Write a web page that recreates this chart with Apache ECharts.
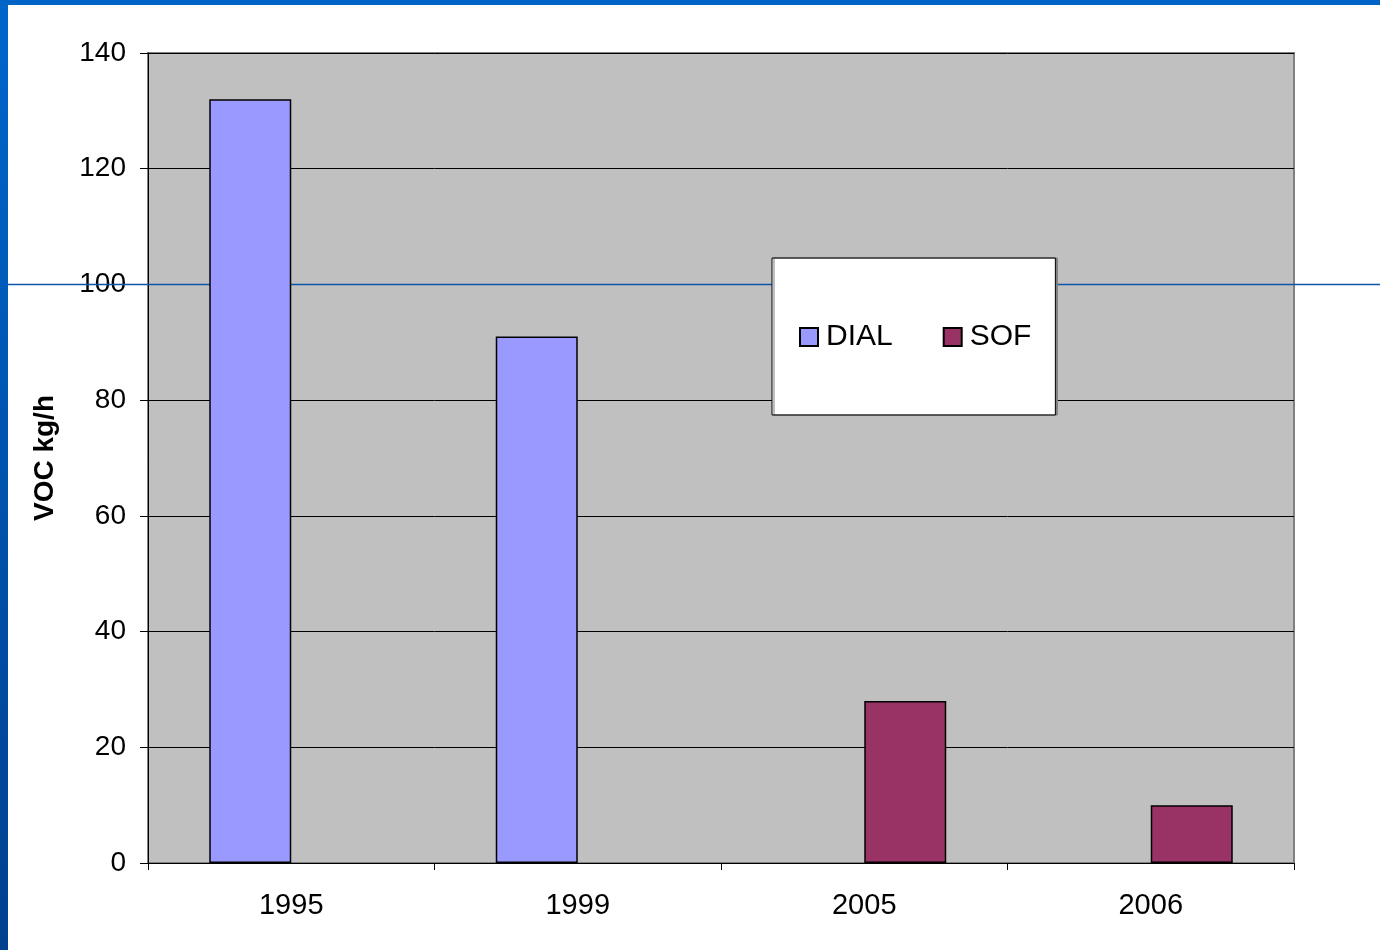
<!DOCTYPE html>
<html>
<head>
<meta charset="utf-8">
<script src="https://cdn.jsdelivr.net/npm/echarts@6/dist/echarts.min.js"></script>
<style>
  html, body { margin: 0; padding: 0; background: #fff; }
  #main { width: 1380px; height: 950px; }
</style>
</head>
<body>
<div id="main"></div>
<script>
// data
var years = ['1995', '1999', '2005', '2006'];
var dialValues = [132, 91, null, null];
var sofValues = [null, null, 28, 10];
var yTicks = [0, 20, 40, 60, 80, 100, 120, 140];

var myChart = echarts.init(document.getElementById('main'));
var font = 'Liberation Sans, Arial, sans-serif';

var option = {
    backgroundColor: '#ffffff',
    animation: false,
    textStyle: { fontFamily: font },
    // slide decoration: blue frame and the title rule
    graphic: [
        {
            type: 'rect', left: 0, top: 0, z: 0,
            shape: { width: 8, height: 950 },
            style: {
                fill: new echarts.graphic.LinearGradient(0, 0, 0, 1, [
                    { offset: 0, color: '#0066cc' },
                    { offset: 1, color: '#00408f' }
                ])
            }
        },
        {
            type: 'rect', left: 0, top: 0, z: 0,
            shape: { width: 1380, height: 5 },
            style: { fill: '#0063c6' }
        },
        {
            type: 'line', z: 1.8,
            shape: { x1: 8, y1: 284.5, x2: 1380, y2: 284.5 },
            style: { stroke: '#0b55a8', lineWidth: 1.6 }
        }
    ],
    legend: {
        left: 772,
        top: 258,
        orient: 'horizontal',
        backgroundColor: '#ffffff',
        borderColor: '#000000',
        borderWidth: 1,
        shadowColor: '#808080',
        shadowOffsetX: 2,
        shadowOffsetY: 0,
        shadowBlur: 0,
        padding: [64, 24, 63, 27],
        itemWidth: 18,
        itemHeight: 18,
        itemGap: 50,
        icon: 'rect',
        textStyle: { fontSize: 30, color: '#000', fontFamily: font, padding: [0, 0, 0, 3] },
        data: ['DIAL', 'SOF']
    },
    grid: {
        left: 148,
        right: 86,
        top: 53,
        bottom: 87,
        show: true,
        backgroundColor: '#c0c0c0',
        borderColor: '#808080',
        borderWidth: 2
    },
    xAxis: {
        type: 'category',
        data: years,
        axisLine: { lineStyle: { color: '#000', width: 1 } },
        axisTick: { show: true, length: 7, lineStyle: { color: '#000' } },
        axisLabel: { fontSize: 29, color: '#000', margin: 28, fontFamily: font },
        splitLine: { show: false }
    },
    yAxis: {
        type: 'value',
        min: yTicks[0],
        max: yTicks[yTicks.length - 1],
        interval: 20,
        name: 'VOC kg/h',
        nameLocation: 'middle',
        nameGap: 89,
        nameRotate: 90,
        nameTextStyle: { fontSize: 28, fontWeight: 'bold', color: '#000', fontFamily: font },
        axisLine: { show: true, lineStyle: { color: '#000', width: 1 } },
        axisTick: { show: true, length: 8, lineStyle: { color: '#000' } },
        axisLabel: { fontSize: 28, color: '#000', margin: 22, fontFamily: font },
        splitLine: { show: true, lineStyle: { color: '#000', width: 1 } }
    },
    series: [
        {
            name: 'DIAL',
            type: 'bar',
            data: dialValues,
            barWidth: 82,
            barGap: '0%',
            itemStyle: { color: '#9999ff', borderColor: '#000', borderWidth: 1.5 }
        },
        {
            name: 'SOF',
            type: 'bar',
            data: sofValues,
            barWidth: 82,
            barGap: '0%',
            itemStyle: { color: '#993366', borderColor: '#000', borderWidth: 1.5 }
        }
    ]
};

myChart.setOption(option);
</script>
</body>
</html>
